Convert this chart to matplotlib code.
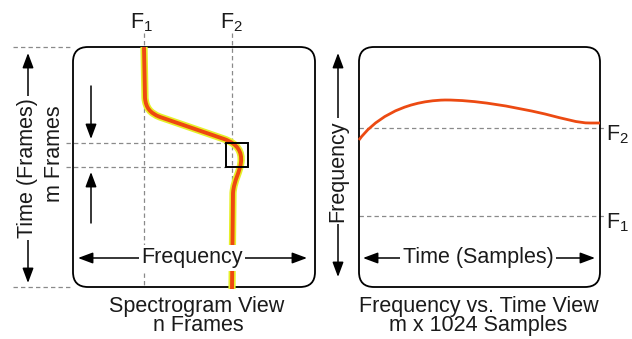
import matplotlib
matplotlib.use('Agg')
import matplotlib.pyplot as plt
from matplotlib.patches import FancyBboxPatch, FancyArrowPatch, Rectangle, PathPatch
from matplotlib.path import Path

plt.rcParams['font.family'] = ['Liberation Sans', 'DejaVu Sans']

# Данные (координаты схемы в пикселях, ось y вниз)
f1_x, f2_x = 144, 232              # частоты F1, F2 на спектрограмме
f2_y, f1_y = 128, 216              # частоты F2, F1 на графике частота-время
frame_top, frame_bot = 143, 167    # выделенный кадр

# траектория на спектрограмме (узлы кривых Безье)
spec_x = [144, 145, 146, 150, 160, 224, 238, 242, 241, 240, 234, 233, 232]
spec_y = [47, 98, 108, 113, 117, 139, 144, 152, 162, 172, 180, 193, 289]
spec_codes = [Path.MOVETO, Path.LINETO, Path.CURVE4, Path.CURVE4, Path.CURVE4,
              Path.LINETO, Path.CURVE4, Path.CURVE4, Path.CURVE4,
              Path.CURVE4, Path.CURVE4, Path.CURVE4, Path.LINETO]

# частота во времени внутри одного кадра
fvt_x = [359, 372, 400, 445, 475, 510, 545, 565, 578, 590, 600]
fvt_y = [140, 122, 101, 100, 100, 106, 114, 119, 123, 123, 123]
fvt_codes = [Path.MOVETO, Path.CURVE4, Path.CURVE4, Path.CURVE4,
             Path.CURVE4, Path.CURVE4, Path.CURVE4,
             Path.CURVE4, Path.CURVE4, Path.CURVE4, Path.LINETO]

left_box = (73, 47, 242, 240)
right_box = (359, 47, 241, 240)

fig = plt.figure(figsize=(6.32, 3.39), dpi=100)
ax = fig.add_axes([0, 0, 1, 1])
ax.set_xlim(0, 632)
ax.set_ylim(339, 0)
ax.axis('off')

dash = dict(color='#8a8a8a', lw=0.9, ls=(0, (3.5, 2.5)), zorder=1)
txt = dict(fontsize=15.5, color='#1a1a1a')
white = dict(facecolor='white', edgecolor='none', pad=1.5)


def arrow(p0, p1, style='<|-|>'):
    a = FancyArrowPatch(p0, p1, arrowstyle=style + ',head_length=0.75,head_width=0.28',
                        mutation_scale=12, lw=1.1, color='black', zorder=5,
                        shrinkA=0, shrinkB=0)
    ax.add_patch(a)


# пунктирные линии
ax.plot([13, left_box[0]], [47, 47], **dash)
ax.plot([13, left_box[0]], [287, 287], **dash)
ax.plot([f1_x, f1_x], [33, 287], **dash)
ax.plot([f2_x, f2_x], [33, 287], **dash)
ax.plot([66, 226], [frame_top, frame_top], **dash)
ax.plot([66, 226], [frame_bot, frame_bot], **dash)
ax.plot([right_box[0], 606], [f2_y, f2_y], **dash)
ax.plot([right_box[0], 606], [f1_y, f1_y], **dash)

# рамки
for b in (left_box, right_box):
    ax.add_patch(FancyBboxPatch((b[0], b[1]), b[2], b[3],
                                boxstyle='round,pad=0,rounding_size=15',
                                fc='none', ec='black', lw=1.3, zorder=2))

# кривые
spec_path = Path(list(zip(spec_x, spec_y)), spec_codes)
ax.add_patch(PathPatch(spec_path, fc='none', ec='#e6f02a', lw=5.2, zorder=3,
                       capstyle='butt'))
ax.add_patch(PathPatch(spec_path, fc='none', ec='#ee4810', lw=2.8, zorder=3.1,
                       capstyle='butt'))
fvt_path = Path(list(zip(fvt_x, fvt_y)), fvt_codes)
ax.add_patch(PathPatch(fvt_path, fc='none', ec='#ec4a12', lw=2.0, zorder=3))

ax.add_patch(Rectangle((226, frame_top), 22, frame_bot - frame_top,
                       fc='none', ec='black', lw=1.4, zorder=4))

# стрелки
arrow((28, 283), (28, 53))
arrow((78, 258), (307, 258))
arrow((91, 86), (91, 139), '-|>')
arrow((91, 223), (91, 172), '-|>')
arrow((338, 277), (338, 53))
arrow((363, 258), (595, 258))

# подписи
ax.text(f1_x - 3, 28, r'F$_\mathregular{1}$', ha='center', va='baseline', **txt)
ax.text(f2_x - 1, 28, r'F$_\mathregular{2}$', ha='center', va='baseline', **txt)
ax.text(606, f2_y + 12, r'F$_\mathregular{2}$', ha='left', va='baseline', **txt)
ax.text(606, f1_y + 12, r'F$_\mathregular{1}$', ha='left', va='baseline', **txt)

ax.text(27, 168, 'Time (Frames)', rotation=90, ha='center', va='center',
        bbox=white, zorder=6, **txt)
ax.text(55, 154, 'm Frames', rotation=90, ha='center', va='center', zorder=6, **txt)
ax.text(192, 258, 'Frequency', ha='center', va='center', bbox=white, zorder=6, **txt)
ax.text(338, 171, 'Frequency', rotation=90, ha='center', va='center',
        bbox=white, zorder=6, **txt)
ax.text(478, 258, 'Time (Samples)', ha='center', va='center', bbox=white,
        zorder=6, **txt)

ax.text(197, 312, 'Spectrogram View', ha='center', va='baseline', **txt)
ax.text(198, 331, 'n Frames', ha='center', va='baseline', **txt)
ax.text(479, 312, 'Frequency vs. Time View', ha='center', va='baseline', **txt)
ax.text(478, 331, 'm x 1024 Samples', ha='center', va='baseline', **txt)

fig.savefig('out.png', dpi=100)
